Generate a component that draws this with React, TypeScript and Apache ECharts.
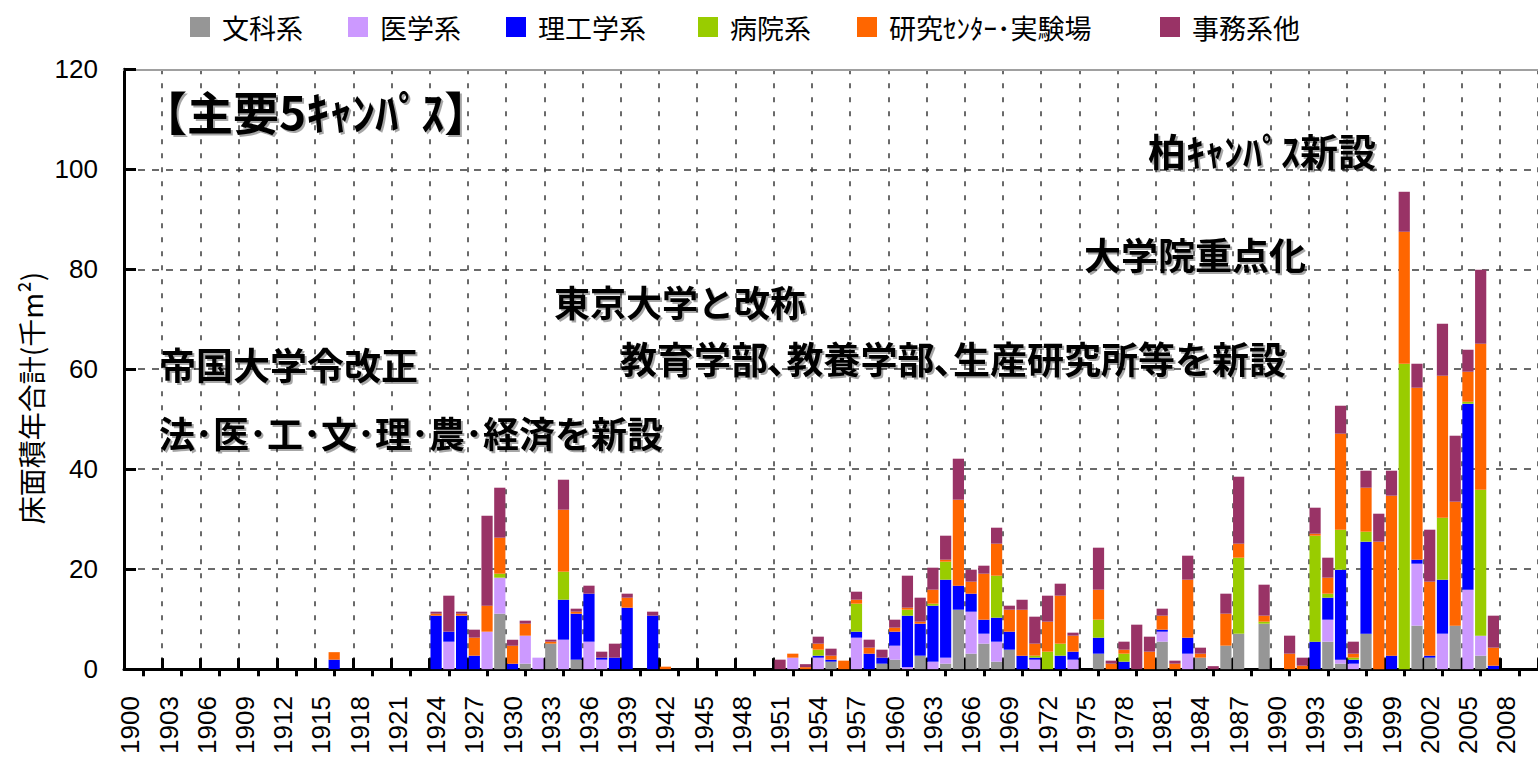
import React, { useEffect, useRef } from "react";
import * as echarts from "echarts";

// ---- categories ----
const FIRST_YEAR = 1900;
const LAST_YEAR = 2010;
const years: string[] = [];
for (let y = FIRST_YEAR; y <= LAST_YEAR; y++) years.push(String(y));

// ---- series ----
const seriesNames = ["文科系", "医学系", "理工学系", "病院系", "研究ｾﾝﾀｰ･実験場", "事務系他"];
const seriesColors = ["#969696", "#CC99FF", "#0000FF", "#99CC00", "#FF6600", "#993366"];

// [year, 千m²]
const bunka: [number, number][] = [
  [1929, 11.1], [1931, 1.1], [1933, 5.1], [1935, 1.9], [1955, 1.5], [1959, 1.1], [1960, 1.9],
  [1962, 2.7], [1964, 1.1], [1965, 11.9], [1966, 3.1], [1967, 5.1], [1968, 1.5], [1969, 3.9],
  [1976, 3.1], [1981, 5.5], [1984, 2.3], [1986, 4.7], [1987, 7.1], [1989, 9.1], [1994, 5.5],
  [1995, 1.1], [1997, 7.1], [2001, 8.7], [2002, 2.3], [2004, 8.7], [2006, 2.7],
];
const igaku: [number, number][] = [
  [1925, 5.5], [1928, 7.5], [1929, 7.2], [1931, 5.6], [1932, 2.3], [1934, 5.9], [1936, 5.5],
  [1937, 1.9], [1952, 2.3], [1954, 2.3], [1957, 6.3], [1960, 2.8], [1961, 0.4], [1963, 1.5],
  [1964, 1.2], [1966, 8.4], [1967, 2.0], [1968, 4.0], [1971, 1.9], [1974, 1.9], [1981, 2.0],
  [1983, 3.1], [1994, 4.4], [1995, 0.8], [1996, 1.1], [2001, 12.4], [2003, 7.1], [2005, 15.9],
  [2006, 4.0],
];
const riko: [number, number][] = [
  [1916, 1.9], [1924, 10.7], [1925, 2.0], [1926, 10.7], [1927, 2.7], [1930, 1.1], [1934, 8.0],
  [1935, 9.2], [1936, 9.6], [1937, 0.4], [1938, 2.3], [1939, 12.3], [1941, 10.7], [1954, 0.4],
  [1955, 0.4], [1957, 1.2], [1958, 3.1], [1959, 1.2], [1960, 2.8], [1961, 10.3], [1962, 6.4],
  [1963, 11.2], [1964, 15.6], [1965, 4.8], [1966, 3.6], [1967, 2.8], [1968, 4.8], [1969, 3.6],
  [1970, 2.7], [1971, 0.4], [1973, 2.7], [1974, 1.6], [1976, 3.2], [1978, 1.5], [1981, 0.4],
  [1983, 3.2], [1993, 5.5], [1994, 4.4], [1995, 18.0], [1996, 0.8], [1997, 18.4], [1999, 2.7],
  [2001, 0.8], [2002, 0.4], [2003, 10.8], [2005, 37.2], [2007, 0.7],
];
const byoin: [number, number][] = [
  [1929, 0.8], [1934, 5.6], [1954, 1.2], [1957, 5.6], [1961, 1.2], [1963, 0.4], [1964, 3.6],
  [1968, 8.4], [1971, 0.4], [1972, 3.5], [1973, 2.4], [1976, 3.6], [1978, 1.6], [1987, 15.2],
  [1989, 0.4], [1993, 21.2], [1994, 0.8], [1995, 8.0], [1996, 0.4], [1997, 2.0], [2000, 61.1],
  [2003, 12.4], [2005, 0.4], [2006, 29.2],
];
const kenkyu: [number, number][] = [
  [1916, 1.5], [1924, 0.4], [1926, 0.4], [1927, 3.6], [1928, 5.2], [1929, 7.2], [1930, 3.6],
  [1931, 2.4], [1933, 0.4], [1934, 12.4], [1935, 0.4], [1939, 2.0], [1942, 0.5], [1952, 0.8],
  [1953, 0.4], [1954, 1.2], [1955, 0.8], [1956, 1.7], [1957, 0.8], [1958, 1.2], [1960, 0.8],
  [1961, 0.4], [1962, 0.4], [1963, 2.8], [1964, 0.4], [1965, 17.2], [1966, 2.4], [1967, 9.2],
  [1968, 6.4], [1969, 4.4], [1970, 9.2], [1971, 2.4], [1972, 6.0], [1973, 9.6], [1974, 3.2],
  [1976, 6.0], [1977, 1.1], [1978, 0.8], [1980, 3.5], [1981, 2.8], [1982, 1.1], [1983, 11.6],
  [1984, 0.8], [1986, 6.4], [1987, 2.8], [1989, 1.2], [1991, 3.1], [1992, 0.7], [1993, 0.4],
  [1994, 3.2], [1995, 19.2], [1996, 0.8], [1997, 8.8], [1998, 25.5], [1999, 32.0], [2000, 26.4],
  [2001, 34.4], [2002, 14.8], [2003, 28.4], [2004, 24.8], [2005, 6.0], [2006, 29.2], [2007, 3.6],
];
const jimu: [number, number][] = [
  [1924, 0.4], [1925, 7.2], [1926, 0.4], [1927, 1.6], [1928, 18.0], [1929, 10.0], [1930, 1.2],
  [1931, 0.6], [1933, 0.4], [1934, 6.0], [1935, 0.6], [1936, 1.6], [1937, 1.2], [1938, 2.8],
  [1939, 0.8], [1941, 0.8], [1951, 1.9], [1953, 0.6], [1954, 1.4], [1955, 1.4], [1957, 1.6],
  [1958, 1.6], [1959, 1.6], [1960, 1.6], [1961, 6.4], [1962, 4.8], [1963, 4.4], [1964, 4.8],
  [1965, 8.2], [1966, 2.4], [1967, 1.6], [1968, 3.2], [1969, 0.8], [1970, 2.0], [1971, 5.4],
  [1972, 5.2], [1973, 2.4], [1974, 0.6], [1976, 8.4], [1977, 0.6], [1978, 1.6], [1979, 8.9],
  [1980, 3.0], [1981, 1.4], [1982, 0.6], [1983, 4.8], [1984, 1.2], [1985, 0.6], [1986, 4.0],
  [1987, 13.4], [1989, 6.2], [1991, 3.6], [1992, 1.6], [1993, 5.2], [1994, 4.0], [1995, 5.6],
  [1996, 2.4], [1997, 3.4], [1998, 5.6], [1999, 5.0], [2000, 8.0], [2001, 4.8], [2002, 10.4],
  [2003, 10.4], [2004, 13.2], [2005, 4.4], [2006, 14.8], [2007, 6.4],
];
const seriesPairs = [bunka, igaku, riko, byoin, kenkyu, jimu];

// ---- axis ----
const yMin = 0;
const yMax = 120;
const yInterval = 20;
const yAxisTitle = "床面積年合計(千m²)";

// ---- annotations ----
const annotations = [
  { text: "【主要5ｷｬﾝﾊﾟｽ】", x: 141, y: 110, size: 46 },
  { text: "柏ｷｬﾝﾊﾟｽ新設", x: 1148, y: 149, size: 38 },
  { text: "大学院重点化", x: 1084, y: 254, size: 37 },
  { text: "東京大学と改称", x: 554, y: 301, size: 36 },
  { text: "教育学部､教養学部､生産研究所等を新設", x: 620, y: 358, size: 37 },
  { text: "帝国大学令改正", x: 159, y: 364, size: 37 },
  { text: "法･医･工･文･理･農･経済を新設", x: 159, y: 432, size: 36 },
];

const legendTextWidths = [96, 96, 130, 97, 241, 123];

const CJK = "'Noto Sans CJK JP', 'Noto Sans CJK SC', sans-serif";
const LATIN = "'Liberation Sans', Arial, sans-serif";

function toFull(pairs: [number, number][]): number[] {
  const m = new Map<number, number>(pairs);
  return years.map((y) => m.get(Number(y)) ?? 0);
}

const GRID = { left: 124, top: 69.3, width: 111 * 12.907, height: 600 };

export default function App() {
  const ref = useRef<HTMLDivElement>(null);

  useEffect(() => {
    if (!ref.current) return;
    const chart = echarts.init(ref.current, null, { renderer: "svg" });
    const dash = "#3a3a3a";
    const option: any = {
      animation: false,
      backgroundColor: "#fff",
      legend: {
        left: 190,
        top: 12,
        padding: 0,
        itemWidth: 20,
        itemHeight: 20,
        itemGap: 30,
        icon: "rect",
        selectedMode: false,
        textStyle: {
          fontSize: 27,
          fontFamily: CJK,
          color: "#000",
          lineHeight: 30,
          padding: [0, 0, 0, 7],
        },
        data: seriesNames.map((n, i) => ({ name: n, textStyle: { width: legendTextWidths[i] } })),
      },
      grid: [{ ...GRID }, { ...GRID }],
      xAxis: [
        {
          type: "category",
          gridIndex: 0,
          data: years,
          boundaryGap: true,
          axisLine: { show: true, lineStyle: { color: "#000", width: 3 } },
          axisTick: { show: true, inside: true, interval: 2, length: 11, lineStyle: { color: "#000", width: 3 } },
          axisLabel: { interval: 2, rotate: 90, fontSize: 26, color: "#000", margin: 27, fontFamily: LATIN },
          splitLine: {
            show: true,
            interval: 2,
            showMinLine: false,
            lineStyle: { color: dash, type: [5, 9], width: 1.5 },
          },
        },
        {
          type: "category",
          gridIndex: 1,
          data: years,
          position: "bottom",
          boundaryGap: true,
          axisLine: { show: false },
          axisTick: {
            show: true,
            alignWithLabel: true,
            interval: (i: number) => i % 3 === 1,
            length: 7,
            lineStyle: { color: "#000", width: 3 },
          },
          axisLabel: { show: false },
          splitLine: { show: false },
        },
        {
          type: "category",
          gridIndex: 1,
          data: years,
          position: "top",
          axisLine: { show: true, lineStyle: { color: "#a0a0a0", width: 2 } },
          axisTick: { show: false },
          axisLabel: { show: false },
          splitLine: { show: false },
        },
      ],
      yAxis: [
        {
          type: "value",
          gridIndex: 0,
          min: yMin,
          max: yMax,
          interval: yInterval,
          axisLine: { show: true, lineStyle: { color: "#000", width: 3 } },
          axisTick: { show: true, inside: true, length: 12, lineStyle: { color: "#000", width: 3 } },
          axisLabel: { color: "#000", fontSize: 26, fontFamily: LATIN, margin: 26 },
          splitLine: {
            show: true,
            showMinLine: false,
            showMaxLine: false,
            lineStyle: { color: dash, type: [7, 7], width: 1.5 },
          },
        },
        { type: "value", gridIndex: 1, show: false, min: 0, max: 1 },
      ],
      graphic: [
        {
          type: "text",
          x: 31,
          y: 398,
          rotation: Math.PI / 2,
          style: {
            text: yAxisTitle,
            font: `28px ${CJK}`,
            fill: "#000",
            textAlign: "center",
            textVerticalAlign: "middle",
          },
        },
        ...annotations.map((a) => ({
          type: "text",
          x: a.x,
          y: a.y,
          z: 10,
          style: {
            text: a.text,
            font: `bold ${a.size}px ${CJK}`,
            fill: "#000",
            textAlign: "left",
            textVerticalAlign: "middle",
            textShadowColor: "rgba(0,0,0,0.35)",
            textShadowBlur: 1,
            textShadowOffsetX: 2,
            textShadowOffsetY: 2,
          },
        })),
      ],
      series: seriesNames.map((name, i) => ({
        name,
        type: "bar",
        stack: "total",
        xAxisIndex: 0,
        yAxisIndex: 0,
        barCategoryGap: "12%",
        data: toFull(seriesPairs[i]),
        itemStyle: { color: seriesColors[i] },
        emphasis: { disabled: true },
      })),
    };
    chart.setOption(option);
    return () => chart.dispose();
  }, []);

  return (
    <div
      ref={ref}
      style={{
        position: "fixed",
        left: 0,
        top: 0,
        width: 1538,
        height: 757,
        overflow: "hidden",
        background: "#fff",
      }}
    />
  );
}
